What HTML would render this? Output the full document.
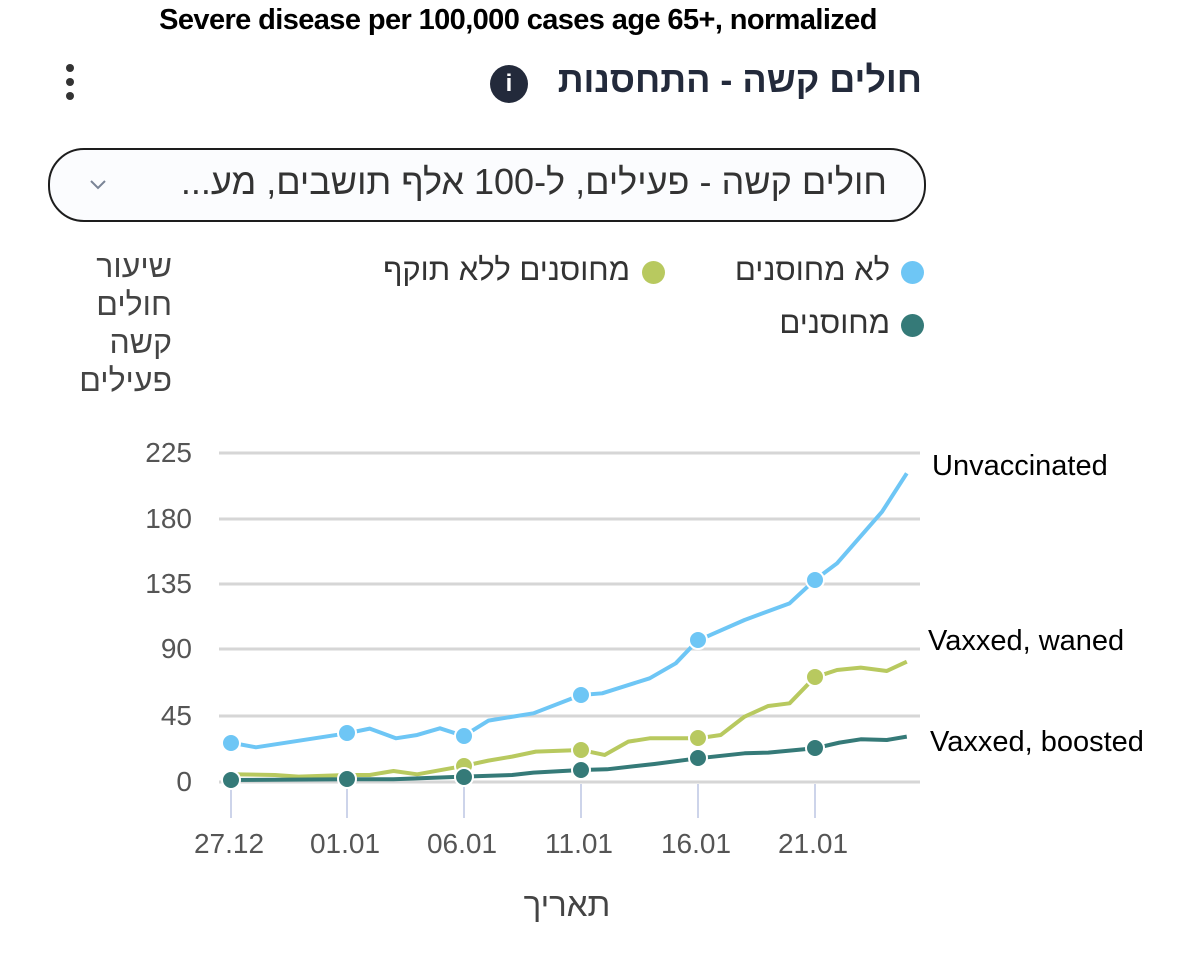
<!DOCTYPE html>
<html><head><meta charset="utf-8"><style>
html,body{margin:0;padding:0;background:#fff;}
body{width:1200px;height:970px;position:relative;overflow:hidden;font-family:"Liberation Sans","Noto Sans CJK SC",sans-serif;}
.a{position:absolute;white-space:nowrap;}
</style></head><body>
<div class="a" style="left:0;top:4px;width:1036px;text-align:center;font-weight:bold;font-size:29px;color:#000;letter-spacing:-0.6px">Severe disease per 100,000 cases age 65+, normalized</div>
<div class="a" style="right:278px;top:59px;font-weight:bold;font-size:36px;color:#232a3b">חולים קשה - התחסנות</div>
<div class="a" style="left:490px;top:65px;width:38px;height:38px;border-radius:50%;background:#232a3b;color:#fff;font-weight:bold;font-size:24px;text-align:center;line-height:38px">i</div>
<div class="a" style="left:66px;top:64px;width:8px;height:8px;border-radius:50%;background:#333"></div>
<div class="a" style="left:66px;top:78px;width:8px;height:8px;border-radius:50%;background:#333"></div>
<div class="a" style="left:66px;top:92px;width:8px;height:8px;border-radius:50%;background:#333"></div>
<div class="a" style="left:48px;top:148px;width:874px;height:70px;border:2px solid #1d1d1d;border-radius:36px;background:#fbfcfe"></div>
<div class="a" style="right:313px;top:161px;font-size:36px;color:#333" dir="rtl">חולים קשה - פעילים, ל-100 אלף תושבים, מע...</div>
<svg class="a" style="left:88px;top:178px" width="20" height="14"><polyline points="3,3 10,10 17,3" fill="none" stroke="#7a8496" stroke-width="2"/></svg>
<div class="a" style="left:901px;top:261px;width:23px;height:23px;border-radius:50%;background:#6ec6f5"></div>
<div class="a" style="right:310px;top:252px;font-size:31px;color:#333">לא מחוסנים</div>
<div class="a" style="left:642px;top:261px;width:23px;height:23px;border-radius:50%;background:#b8c95f"></div>
<div class="a" style="right:570px;top:252px;font-size:31px;color:#333">מחוסנים ללא תוקף</div>
<div class="a" style="left:901px;top:314px;width:23px;height:23px;border-radius:50%;background:#357a78"></div>
<div class="a" style="right:310px;top:305px;font-size:31px;color:#333">מחוסנים</div>
<div class="a" style="right:1028px;top:247px;font-size:32px;color:#444;text-align:right;line-height:38px">שיעור<br>חולים<br>קשה<br>פעילים</div>
<svg class="a" style="left:0;top:0" width="1200" height="970">
<g stroke="#d6d6d6" stroke-width="3">
<line x1="219" y1="453" x2="920" y2="453"/><line x1="219" y1="519" x2="920" y2="519"/><line x1="219" y1="584" x2="920" y2="584"/><line x1="219" y1="649" x2="920" y2="649"/><line x1="219" y1="716" x2="920" y2="716"/><line x1="219" y1="782" x2="920" y2="782"/>
</g>
<g stroke="#cdd4ea" stroke-width="2">
<line x1="231" y1="784" x2="231" y2="818"/><line x1="347" y1="784" x2="347" y2="818"/><line x1="464" y1="784" x2="464" y2="818"/><line x1="581" y1="784" x2="581" y2="818"/><line x1="698" y1="784" x2="698" y2="818"/><line x1="815" y1="784" x2="815" y2="818"/>
</g>
<g font-size="28" fill="#555" text-anchor="end" font-family="Liberation Sans,sans-serif">
<text x="192" y="462">225</text><text x="192" y="528">180</text><text x="192" y="593">135</text><text x="192" y="658">90</text><text x="192" y="725">45</text><text x="192" y="791">0</text>
</g>
<g font-size="28" fill="#555" text-anchor="middle" font-family="Liberation Sans,sans-serif">
<text x="229" y="853">27.12</text><text x="345" y="853">01.01</text><text x="462" y="853">06.01</text><text x="579" y="853">11.01</text><text x="696" y="853">16.01</text><text x="813" y="853">21.01</text>
</g>
<text x="567" y="916" font-size="33" fill="#444" text-anchor="middle">תאריך</text>
<g transform="translate(180,440) scale(0.4744,0.3333)" fill="none" stroke-linejoin="round">
<polyline vector-effect="non-scaling-stroke" stroke="#b8c95f" stroke-width="4" points="107,1003 200,1005 250,1010 352,1005 400,1005 450,993 500,1003 598,978 650,962 700,950 750,935 845,930 895,945 945,905 990,895 1092,895 1140,885 1190,830 1240,798 1285,790 1338,712 1385,690 1435,683 1490,693 1532,665"/>
<polyline vector-effect="non-scaling-stroke" stroke="#357a78" stroke-width="4" points="107,1020 352,1018 450,1018 598,1010 700,1005 745,998 845,990 900,988 1000,972 1092,955 1190,940 1240,938 1285,932 1338,925 1390,908 1435,898 1490,900 1532,890"/>
<polyline vector-effect="non-scaling-stroke" stroke="#6ec6f5" stroke-width="4" points="107,908 160,922 352,880 400,866 455,895 500,885 548,865 598,888 650,842 745,820 845,765 890,760 990,715 1045,670 1092,600 1110,590 1190,540 1285,490 1338,420 1385,370 1480,215 1532,100"/>
</g>
<g stroke="#fff" stroke-width="2">
<circle cx="464" cy="766" r="9" fill="#b8c95f"/><circle cx="581" cy="750" r="9" fill="#b8c95f"/><circle cx="698" cy="738" r="9" fill="#b8c95f"/><circle cx="815" cy="677" r="9" fill="#b8c95f"/>
<circle cx="231" cy="780" r="9" fill="#357a78"/><circle cx="347" cy="779" r="9" fill="#357a78"/><circle cx="464" cy="777" r="9" fill="#357a78"/><circle cx="581" cy="770" r="9" fill="#357a78"/><circle cx="698" cy="758" r="9" fill="#357a78"/><circle cx="815" cy="748" r="9" fill="#357a78"/>
<circle cx="231" cy="743" r="9" fill="#6ec6f5"/><circle cx="347" cy="733" r="9" fill="#6ec6f5"/><circle cx="464" cy="736" r="9" fill="#6ec6f5"/><circle cx="581" cy="695" r="9" fill="#6ec6f5"/><circle cx="698" cy="640" r="9" fill="#6ec6f5"/><circle cx="815" cy="580" r="9" fill="#6ec6f5"/>
</g>
</svg>
<div class="a" style="left:932px;top:450px;font-size:29px;color:#000">Unvaccinated</div>
<div class="a" style="left:928px;top:625px;font-size:29px;color:#000">Vaxxed, waned</div>
<div class="a" style="left:930px;top:726px;font-size:29px;color:#000">Vaxxed, boosted</div>
</body></html>
